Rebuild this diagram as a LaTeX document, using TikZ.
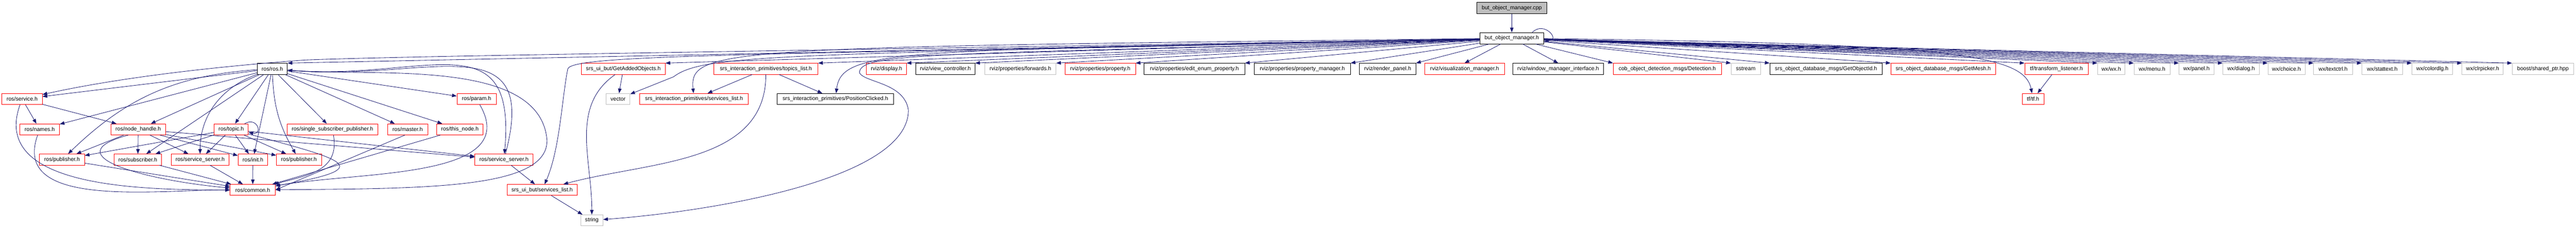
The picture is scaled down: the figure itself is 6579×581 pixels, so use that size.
\documentclass[tikz,border=0pt]{standalone}
\usepackage{fontspec}
\setmainfont{Liberation Sans}
\usetikzlibrary{arrows.meta}
\usetikzlibrary{positioning}

\definecolor{midblue}{RGB}{25,25,112}
\definecolor{grey75}{RGB}{191,191,191}

\begin{document}
\begin{tikzpicture}[x=1pt,y=1pt,>={Triangle[length=12pt,width=9pt]},
	node distance=77pt,
	every node/.style={font=\fontsize{14}{16}\selectfont},
	file/.style={rectangle,draw,line width=1.1pt,minimum height=28pt,inner sep=0pt},
	red file/.style={file,draw=red},
	black file/.style={file,draw=black},
	grey file/.style={file,draw=grey75},
	inc/.style={->,color=midblue,line width=1.1pt}]

	\useasboundingbox (0,0) rectangle (6579,581);

	% root file and its header
	\node[file,fill=grey75,minimum width=180pt,minimum height=29pt] (cpp) at (3861,560.5) {but\_object\_manager.cpp};
	\node[black file,minimum width=164pt,minimum height=29pt] (bomh) [below of=cpp] {but\_object\_manager.h};

	% first row of headers
	\node[black file,minimum width=77pt] (rosh) at (695.5,405.5) {ros/ros.h};
	\node[red file,minimum width=214pt] (getadded) at (1592,405.5) {srs\_ui\_but/GetAddedObjects.h};
	\node[red file,minimum width=266pt] (topicslist) at (1956,405.5) {srs\_interaction\_primitives/topics\_list.h};
	\node[red file,minimum width=102pt] (display) at (2264,405.5) {rviz/display.h};
	\node[black file,minimum width=151pt] (viewctrl) at (2414.5,405.5) {rviz/view\_controller.h};
	\node[grey file,minimum width=182pt] (forwards) at (2606,405.5) {rviz/properties/forwards.h};
	\node[red file,minimum width=180pt] (property) at (2810,405.5) {rviz/properties/property.h};
	\node[black file,minimum width=257pt] (editenum) at (3050.5,405.5) {rviz/properties/edit\_enum\_property.h};
	\node[black file,minimum width=246pt] (propmgr) at (3326,405.5) {rviz/properties/property\_manager.h};
	\node[black file,minimum width=144pt] (renderpanel) at (3544,405.5) {rviz/render\_panel.h};
	\node[red file,minimum width=203pt] (vismgr) at (3740.5,405.5) {rviz/visualization\_manager.h};
	\node[black file,minimum width=231pt] (winmgr) at (3979.5,405.5) {rviz/window\_manager\_interface.h};
	\node[red file,minimum width=276pt] (detection) at (4258,405.5) {cob\_object\_detection\_msgs/Detection.h};
	\node[grey file,minimum width=75pt] (sstream) at (4458.5,405.5) {sstream};
	\node[black file,minimum width=287pt] (getobjid) at (4663.5,405.5) {srs\_object\_database\_msgs/GetObjectId.h};
	\node[red file,minimum width=268pt] (getmesh) at (4963,405.5) {srs\_object\_database\_msgs/GetMesh.h};
	\node[red file,minimum width=162pt] (tflistener) at (5252,405.5) {tf/transform\_listener.h};
	\node[grey file,minimum width=70pt] (wxwx) at (5392,405.5) {wx/wx.h};
	\node[grey file,minimum width=92pt] (wxmenu) at (5496,405.5) {wx/menu.h};
	\node[grey file,minimum width=89pt] (wxpanel) at (5609.5,405.5) {wx/panel.h};
	\node[grey file,minimum width=93pt] (wxdialog) at (5723.5,405.5) {wx/dialog.h};
	\node[grey file,minimum width=95pt] (wxchoice) at (5839.5,405.5) {wx/choice.h};
	\node[grey file,minimum width=99pt] (wxtextctrl) at (5958.5,405.5) {wx/textctrl.h};
	\node[grey file,minimum width=104pt] (wxstattext) at (6084,405.5) {wx/stattext.h};
	\node[grey file,minimum width=104pt] (wxcolordlg) at (6212,405.5) {wx/colordlg.h};
	\node[grey file,minimum width=105pt] (wxclrpicker) at (6340.5,405.5) {wx/clrpicker.h};
	\node[grey file,minimum width=157pt] (sharedptr) at (6494.5,405.5) {boost/shared\_ptr.hpp};

	% second row
	\node[red file,minimum width=103pt] (service) at (56.5,328.5) {ros/service.h};
	\node[red file,minimum width=100pt] (param) at (1217,328.5) {ros/param.h};
	\node[grey file,minimum width=61pt] (vector) at (1578.5,328.5) {vector};
	\node[red file,minimum width=277pt] (sipservices) at (1772.5,328.5) {srs\_interaction\_primitives/services\_list.h};
	\node[black file,minimum width=297pt] (posclicked) at (2133.5,328.5) {srs\_interaction\_primitives/PositionClicked.h};
	\node[red file,minimum width=55pt] (tfh) at (5192.5,328.5) {tf/tf.h};

	% third row
	\node[red file,minimum width=101pt] (names) at (101.5,251) {ros/names.h};
	\node[red file,minimum width=140pt] (nodehandle) at (353,251) {ros/node\_handle.h};
	\node[red file,minimum width=87pt] (topic) at (590.5,251) {ros/topic.h};
	\node[red file,minimum width=232pt] (singlesub) at (849,251) {ros/single\_subscriber\_publisher.h};
	\node[red file,minimum width=102pt] (master) at (1041,251) {ros/master.h};
	\node[red file,minimum width=119pt] (thisnode) at (1174.5,251) {ros/this\_node.h};

	% fourth row
	\node[red file,minimum width=115pt] (pubA) at (158.5,174) {ros/publisher.h};
	\node[red file,minimum width=122pt] (subscriber) at (352,174) {ros/subscriber.h};
	\node[red file,minimum width=148pt] (srvA) at (511,174) {ros/service\_server.h};
	\node[red file,minimum width=76pt] (init) at (646,174) {ros/init.h};
	\node[red file,minimum width=115pt] (pubB) at (763.5,174) {ros/publisher.h};
	\node[red file,minimum width=148pt] (srvB) at (1287,174) {ros/service\_server.h};

	% bottom rows
	\node[red file,minimum width=115pt] (common) at (645.5,96.5) {ros/common.h};
	\node[red file,minimum width=179pt] (uiservices) at (1384.5,96.5) {srs\_ui\_but/services\_list.h};
	\node[grey file,minimum width=57pt] (string) at (1511.5,19) {string};

	% bends of the long connectors
	\coordinate (viasrv) at (780,428);
	\coordinate (viavec) at (1720,385);
	\coordinate (viaui) at (1450,405);
	\coordinate (viastr) at (2195,395);
	\coordinate (viastrb) at (2320,300);
	\coordinate (viacom) at (1397,224);

	% includes of the root file and the header
	\path[inc] (cpp) edge (bomh);
	\path[inc] (bomh.16) edge[out=45,in=0,looseness=3] (bomh.-4);
	\foreach \f in {rosh,getadded,topicslist,display,viewctrl,forwards,property,editenum,propmgr,renderpanel}
		\path[inc] (bomh) edge (\f.north east);
	\foreach \f in {vismgr,winmgr}
		\path[inc] (bomh) edge (\f.north);
	\foreach \f in {detection,sstream,getobjid,getmesh,tflistener,wxwx,wxmenu,wxpanel,wxdialog,wxchoice,wxtextctrl,wxstattext,wxcolordlg,wxclrpicker,sharedptr}
		\path[inc] (bomh) edge (\f.north west);

	\draw[inc] (bomh) .. controls (2000,450) and (1100,440) .. (viasrv) .. controls (400,400) and (200,360) .. (service);
	\draw[inc] (bomh) .. controls (2000,440) and (1800,445) .. (viavec) -- (vector);
	\draw[inc] (bomh) .. controls (1850,460) and (1760,460) .. (sipservices);
	\draw[inc] (bomh) .. controls (2300,450) and (2150,460) .. (posclicked);
	\draw[inc] (bomh) .. controls (2000,440) and (1460,445) .. (viaui) .. controls (1435,330) and (1430,200) .. (uiservices);
	\draw[inc] (bomh) .. controls (2400,440) and (2195,450) .. (viastr) .. controls (2210,370) and (2310,370) .. (viastrb) .. controls (2320,120) and (1800,40) .. (string);
	\draw[inc] (bomh) .. controls (5000,470) and (5170,440) .. (tfh);

	% ros/ros.h
	\path[inc] (rosh) edge (service) edge (names) edge[bend right=20] (pubA)
		edge (subscriber) edge (nodehandle) edge[out=200,in=90] (srvA)
		edge (init) edge[out=-88,in=120] (pubB) edge (topic)
		edge (singlesub) edge (master) edge (thisnode) edge (param)
		edge[out=-5,in=85,looseness=1.5] (srvB);
	\draw[inc] (rosh) to[out=-5,in=95,looseness=0.8] (viacom) .. controls (1400,100) and (1100,100) .. (common);

	% the ros headers below
	\path[inc] (service) edge (names) edge (nodehandle) edge[out=-110,in=180] (common);
	\path[inc] (names) edge[out=-110,in=180] (common);
	\path[inc] (nodehandle) edge (pubA) edge (subscriber) edge (srvA) edge (init) edge (pubB) edge (srvB);
	\path[inc] (nodehandle.-150) edge[out=-165,in=175,looseness=1.8] (common);
	\path[inc] (topic.23) edge[out=30,in=-10,looseness=4] (topic.-10);
	\path[inc] (topic) edge (pubA) edge (subscriber) edge (srvA) edge (init) edge (pubB) edge (srvB)
		edge[out=-15,in=10,looseness=4.5] (common);
	\path[inc] (singlesub) edge[out=-80,in=15,looseness=1.2] (common);
	\path[inc] (master.-115) edge (common.east);
	\path[inc] (thisnode) edge (common);
	\path[inc] (param) edge[out=-60,in=10] (common);
	\path[inc] (pubA) edge (common);
	\path[inc] (subscriber) edge (common);
	\path[inc] (srvA) edge (common);
	\path[inc] (init) edge (common);
	\path[inc] (srvB) edge (uiservices) edge[out=75,in=-5,looseness=1.5] (rosh);

	% srs headers
	\path[inc] (uiservices) edge (string);
	\path[inc] (getadded) edge (vector) edge[out=-145,in=90] (string);
	\path[inc] (topicslist) edge (sipservices) edge (posclicked) edge[out=-90,in=15] (uiservices);
	\path[inc] (tflistener) edge (tfh);
\end{tikzpicture}
\end{document}
